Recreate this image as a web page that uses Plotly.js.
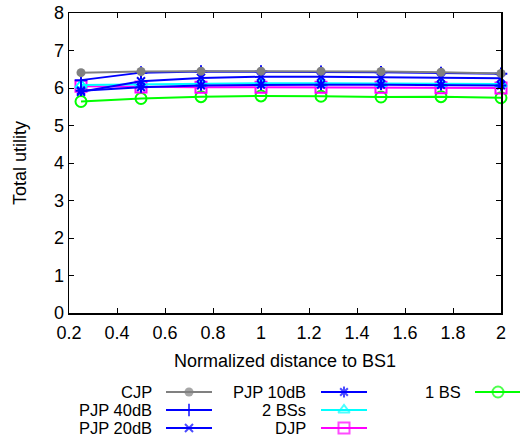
<!DOCTYPE html>
<html>
<head>
<meta charset="utf-8">
<script src="https://cdn.plot.ly/plotly-3.0.1.min.js"></script>
<style>html,body{margin:0;padding:0;background:#fff;}#chart{width:520px;height:438px;}</style>
</head>
<body>
<div id="chart"></div>
<script>
// ---- data ----
const distance = [0.25, 0.5, 0.75, 1.0, 1.25, 1.5, 1.75, 2.0];
const cjp    = [6.41, 6.44, 6.45, 6.45, 6.45, 6.44, 6.42, 6.39];
const pjp40  = [6.21, 6.41, 6.44, 6.44, 6.43, 6.42, 6.40, 6.38];
const pjp20  = [5.90, 6.18, 6.27, 6.30, 6.30, 6.28, 6.27, 6.26];
const pjp10  = [5.93, 6.02, 6.07, 6.09, 6.09, 6.09, 6.08, 6.07];
const bs2    = [6.08, 6.10, 6.12, 6.13, 6.13, 6.12, 6.12, 6.11];
const djp    = [6.05, 6.03, 6.02, 6.02, 6.02, 6.02, 6.01, 6.00];
const bs1    = [5.64, 5.72, 5.77, 5.79, 5.78, 5.76, 5.77, 5.74];
const seriesNames = ["CJP", "PJP 40dB", "PJP 20dB", "PJP 10dB", "2 BSs", "DJP", "1 BS"];
const xTickVals = [0.2, 0.4, 0.6, 0.8, 1, 1.2, 1.4, 1.6, 1.8, 2];
const xTickText = ["0.2", "0.4", "0.6", "0.8", "1", "1.2", "1.4", "1.6", "1.8", "2"];
const yTickVals = [0, 1, 2, 3, 4, 5, 6, 7, 8];

// ---- styles ----
const W = 520, H = 438;
const styles = [
  {color: "#808080", symbol: "circle", size: 9, lw: 0},
  {color: "#0000ff", symbol: "cross-thin", size: 9, lw: 2},
  {color: "#0000ff", symbol: "x-thin", size: 8, lw: 2},
  {color: "#0000ff", symbol: "asterisk", size: 9, lw: 2},
  {color: "#00ffff", symbol: "triangle-up-open", size: 10, lw: 2},
  {color: "#ff00ff", symbol: "square-open", size: 11, lw: 2},
  {color: "#00ff00", symbol: "circle-open", size: 11, lw: 2}
];
const allY = [cjp, pjp40, pjp20, pjp10, bs2, djp, bs1];

// legend layout (pixel coords)
const legendCols = [
  {textX: 154, x0: 166, x1: 212},
  {textX: 308, x0: 321, x1: 367},
  {textX: 463, x0: 475, x1: 521}
];
const legendRows = [392, 410, 428];
const legendPos = [[0,0],[0,1],[0,2],[1,0],[1,1],[1,2],[2,0]];

const traces = [];
const annotations = [];
const order = [6, 5, 4, 3, 2, 1, 0];
order.forEach(i => {
  const s = styles[i];
  traces.push({
    x: distance, y: allY[i], type: "scatter", mode: "lines+markers",
    name: seriesNames[i], showlegend: false, cliponaxis: false,
    line: {color: s.color, width: 2},
    marker: {symbol: s.symbol, size: s.size, color: s.color, line: {color: s.color, width: s.lw}}
  });
});
seriesNames.forEach((n, i) => {
  const s = styles[i];
  const [c, r] = legendPos[i];
  const col = legendCols[c], y = legendRows[r];
  traces.push({
    x: [col.x0, (col.x0 + col.x1) / 2, col.x1], y: [y, y, y],
    xaxis: "x2", yaxis: "y2", type: "scatter", mode: "lines+markers",
    showlegend: false, cliponaxis: false, hoverinfo: "skip",
    line: {color: s.color, width: 2},
    marker: {symbol: s.symbol, size: [0, s.size, 0], color: s.color, line: {color: s.color, width: s.lw}}
  });
  annotations.push({
    xref: "x2", yref: "y2", x: col.textX, y: y, text: n, showarrow: false,
    xanchor: "right", yanchor: "middle", font: {size: 16.5, color: "#000"}
  });
});

const plotL = 69, plotR = 501, plotT = 13, plotB = 313;
const layout = {
  width: W, height: H,
  margin: {l: 0, r: 0, t: 0, b: 0},
  paper_bgcolor: "#fff", plot_bgcolor: "rgba(0,0,0,0)",
  font: {family: "Liberation Sans, Arial, sans-serif", size: 18, color: "#000"},
  showlegend: false,
  xaxis: {
    domain: [plotL / W, plotR / W], range: [0.2, 2],
    tickvals: xTickVals, ticktext: xTickText,
    ticks: "inside", ticklen: 5, tickwidth: 1, tickcolor: "#000",
    showline: true, linecolor: "#000", linewidth: 1.5, mirror: "ticks",
    showgrid: false, zeroline: false, tickfont: {size: 18}, ticklabelstandoff: 3,
    title: {text: "Normalized distance to BS1", font: {size: 18}, standoff: 12},
    automargin: false
  },
  yaxis: {
    domain: [(H - plotB) / H, (H - plotT) / H], range: [0, 8],
    tickvals: yTickVals,
    ticks: "inside", ticklen: 5, tickwidth: 1, tickcolor: "#000",
    showline: true, linecolor: "#000", linewidth: 1.5, mirror: "ticks",
    showgrid: false, zeroline: false, tickfont: {size: 18},
    title: {text: "Total utility", font: {size: 18}, standoff: 22},
    automargin: false
  },
  xaxis2: {domain: [0, 1], range: [0, W], visible: false, fixedrange: true, anchor: "y2"},
  yaxis2: {domain: [0, 1], range: [H, 0], visible: false, fixedrange: true, anchor: "x2"},
  annotations: annotations
};
Plotly.newPlot("chart", traces, layout, {staticPlot: true, displayModeBar: false});
</script>
</body>
</html>
